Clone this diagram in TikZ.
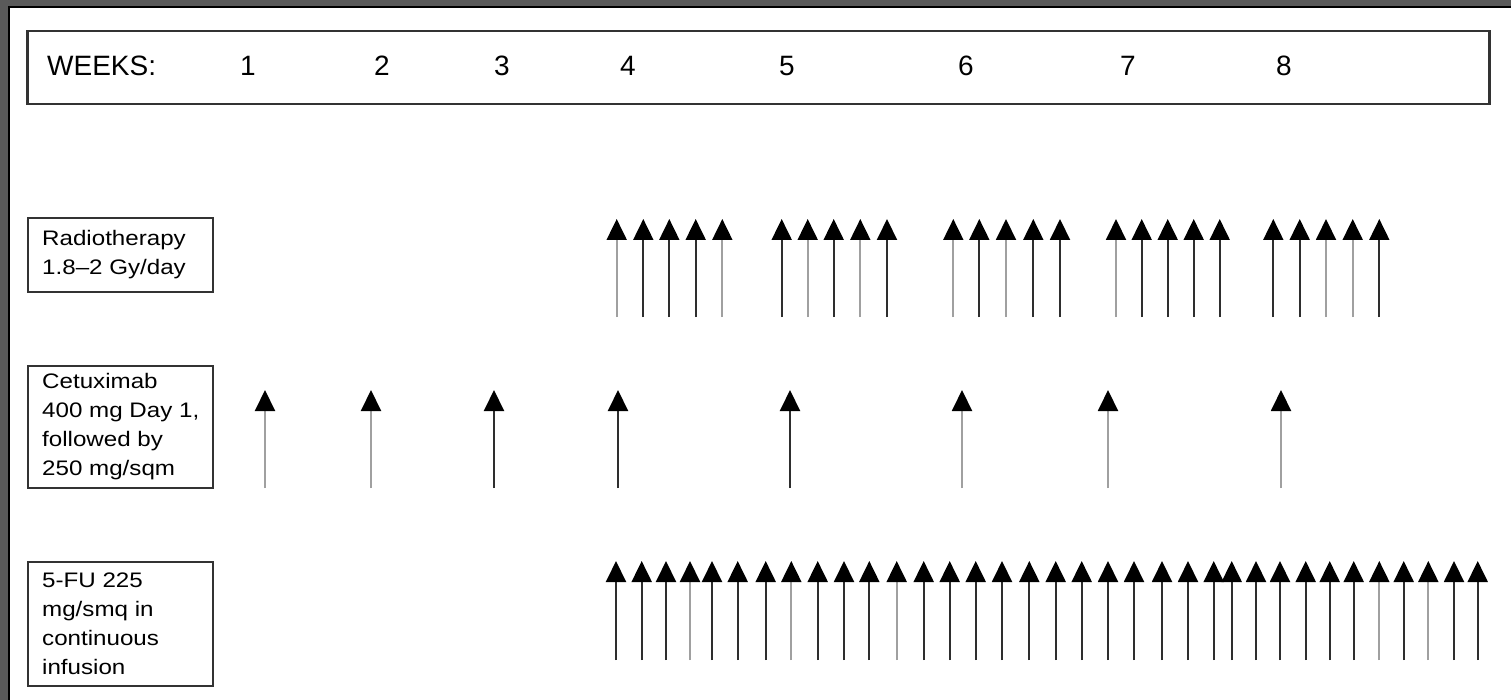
\documentclass[tikz,border=0pt]{standalone}
\usepackage{fontspec}
\setmainfont{Liberation Sans}
\newfontfamily\boxfont[FakeStretch=1.15]{Liberation Sans}
\usetikzlibrary{arrows.meta}
\definecolor{framegray}{HTML}{5A5A5A}
\definecolor{shaftk}{HTML}{2E2E2E}
\definecolor{shaftg}{HTML}{A0A0A0}
\definecolor{boxline}{HTML}{333333}
\tikzset{
  lbox/.style={draw=boxline, line width=2pt, anchor=north west, minimum width=185pt, inner sep=0pt},
  ltext/.style={anchor=west, inner sep=0pt, align=left,
    font=\boxfont\fontsize{21}{29}\selectfont},
  wk/.style={anchor=base, font=\fontsize{28}{30}\selectfont, inner sep=0pt},
  dose/.style={line width=2pt, -{Triangle[width=20pt,length=21pt,black]}},
}
\begin{document}
\begin{tikzpicture}[x=1pt,y=-1pt]
\useasboundingbox (0,0) rectangle (1511,700);
% page frame
\fill[framegray] (0,0) rectangle (1511,700);
\fill[white] (9,7) rectangle (1511,700);
\draw[black, line width=2pt] (9,700) -- (9,7) -- (1511,7);
% header
\node[draw=boxline, line width=2.5pt, anchor=north west, minimum width=1462pt, minimum height=73pt, inner sep=0pt] (hdr) at (26,30) {};
\node[wk, anchor=base west] (wlab) at (47,76) {WEEKS:};
\foreach \x/\n in {248/1,382/2,502/3,628/4,787/5,966/6,1128/7,1284/8}
  \node[wk] (w\n) at (\x,76) {\n};
% row labels
\node[lbox, minimum height=74pt] (rt) at (27,217) {};
\node[ltext] (rtt) at ([xshift=15pt]rt.west) {Radiotherapy\\1.8–2 Gy/day};
\node[lbox, minimum height=122pt] (cx) at (27,365) {};
\node[ltext] (cxt) at ([xshift=15pt]cx.west) {Cetuximab\\400 mg Day 1,\\followed by\\250 mg/sqm};
\node[lbox, minimum height=124pt] (fu) at (27,561) {};
\node[ltext] (fut) at ([xshift=15pt]fu.west) {5-FU 225\\mg/smq in\\continuous\\infusion};
% radiotherapy arrows
\foreach \x/\c [count=\i] in {616.7/shaftg,643.3/shaftk,669.3/shaftk,695.7/shaftk,722.3/shaftg,
  781.7/shaftk,807.7/shaftg,833.7/shaftk,860.3/shaftg,887/shaftk,
  953.3/shaftg,979.3/shaftk,1006/shaftg,1033.3/shaftk,1060/shaftk,
  1116/shaftg,1141.7/shaftk,1167.7/shaftk,1193.7/shaftk,1219.7/shaftk,
  1273.3/shaftk,1299.7/shaftk,1326/shaftg,1352.7/shaftg,1379.3/shaftk}{
  \coordinate (rb\i) at (\x,317);
  \coordinate (rt\i) at (\x,219);
  \draw[dose, draw=\c] (rb\i) -- (rt\i);
}
% cetuximab arrows
\foreach \x/\c [count=\i] in {265/shaftg,371/shaftg,494/shaftk,618/shaftk,790/shaftk,962/shaftg,1108/shaftg,1281/shaftg}{
  \coordinate (cb\i) at (\x,488);
  \coordinate (ct\i) at (\x,390);
  \draw[dose, draw=\c] (cb\i) -- (ct\i);
}
% 5-FU arrows
\foreach \x/\c [count=\i] in {616/shaftk,641.7/shaftk,666/shaftk,690/shaftg,712/shaftk,737.7/shaftk,765.7/shaftk,
  791.3/shaftg,817.7/shaftk,844/shaftk,869.3/shaftk,896.7/shaftg,923.7/shaftk,949.7/shaftk,
  975.7/shaftk,1002/shaftk,1029.3/shaftk,1055.7/shaftk,1081.7/shaftk,1108/shaftk,1134/shaftk,
  1162/shaftk,1188/shaftk,1213.7/shaftk,1231.7/shaftk,1256/shaftk,1280/shaftk,1305.7/shaftk,
  1329.7/shaftk,1353.7/shaftk,1379.3/shaftg,1403.7/shaftk,1428.3/shaftg,1454/shaftk,1477.7/shaftk}{
  \coordinate (fb\i) at (\x,660);
  \coordinate (ft\i) at (\x,561);
  \draw[dose, draw=\c] (fb\i) -- (ft\i);
}
\end{tikzpicture}
\end{document}
